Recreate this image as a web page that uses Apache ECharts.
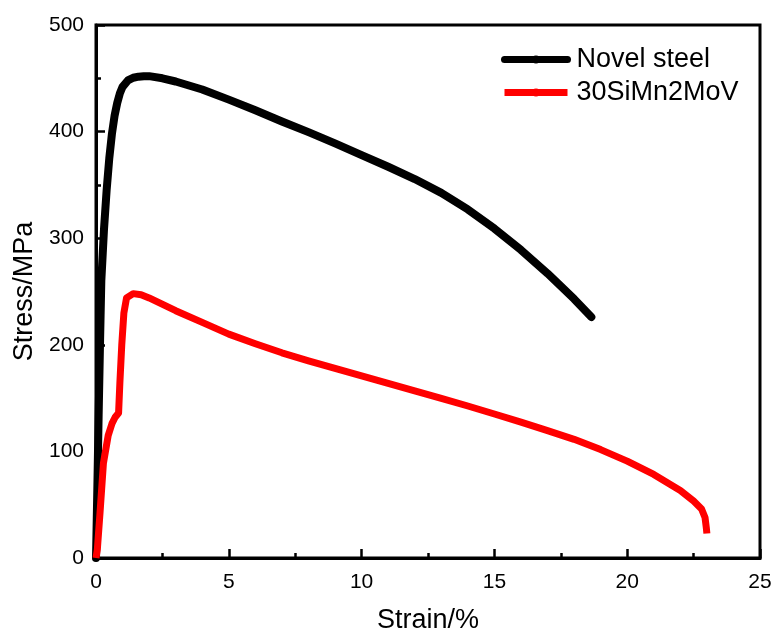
<!DOCTYPE html>
<html>
<head>
<meta charset="utf-8">
<script src="https://cdn.jsdelivr.net/npm/echarts@6/dist/echarts.min.js"></script>
<style>
  html, body { margin: 0; padding: 0; background: #fff; }
  #chart { width: 775px; height: 632px; }
</style>
</head>
<body>
<div id="chart"></div>
<script>
// strain (%) / stress (MPa) pairs
const novelStrain = [0, 0.05, 0.1, 0.15, 0.2, 0.3, 0.4, 0.5, 0.6, 0.7, 0.8, 0.9, 1.0, 1.2, 1.4, 1.6, 1.8, 2.0, 2.5, 3.0, 4.0, 5.0, 6.0, 7.0, 8.0, 9.0, 10.0, 11.0, 12.0, 13.0, 14.0, 15.0, 16.0, 17.0, 18.0, 18.65]
const novelStress = [0, 65, 135, 200, 260, 308, 345, 375, 398, 415, 427, 436, 442, 448, 450.5, 451.5, 452, 452, 450, 447, 439.5, 430, 420, 409.5, 399.5, 389, 378, 367, 355.5, 342.5, 327, 309, 289, 267, 243, 226]

const refStrain = [0, 0.05, 0.15, 0.28, 0.46, 0.6, 0.72, 0.85, 0.9, 0.97, 1.05, 1.15, 1.4, 1.7, 2.0, 3.0, 4.0, 5.0, 6.0, 7.0, 8.0, 9.0, 10.0, 11.0, 12.0, 13.0, 14.0, 15.0, 16.0, 17.0, 18.0, 19.0, 20.0, 21.0, 22.0, 22.5, 22.8, 22.93, 22.98, 23.0]
const refStress = [0, 8, 42, 89, 115, 126, 132, 136, 165, 200, 230, 244, 248, 247, 244, 232, 221, 210, 201, 192.5, 185, 177.8, 170.8, 163.8, 156.8, 149.8, 142.6, 135.1, 127.5, 119.5, 111.3, 101.7, 90.9, 78.4, 63.4, 53.4, 46, 38, 28, 23]

const seriesNames = ['Novel steel', '30SiMn2MoV']
const seriesColors = ['#000000', '#ff0000']

const zip = (xs, ys) => xs.map((x, i) => [x, ys[i]])

const chart = echarts.init(document.getElementById('chart'))
const font = 'Liberation Sans, Arial, sans-serif'

const axisLine = { show: true, lineStyle: { color: '#000', width: 3 } }
const axisTick = { show: true, inside: true, length: 9, lineStyle: { color: '#000', width: 2.5 } }
const minorTick = { show: true, splitNumber: 2, length: 5, lineStyle: { color: '#000', width: 2.5 } }

chart.setOption({
  animation: false,
  grid: {
    left: 96, right: 15, top: 25, bottom: 74,
    outerBoundsMode: 'none',
    show: true, borderColor: '#000', borderWidth: 3,
  },
  legend: {
    orient: 'vertical',
    left: 501, top: 46,
    padding: 0,
    itemWidth: 63, itemHeight: 10, itemGap: 6,
    lineStyle: { width: 7 },
    textStyle: { fontFamily: font, fontSize: 27, color: '#000', padding: [0, 0, 0, 4] },
    data: seriesNames,
  },
  xAxis: {
    type: 'value',
    min: 0, max: 25, interval: 5,
    name: 'Strain/%',
    nameLocation: 'middle',
    nameGap: 49,
    nameTextStyle: { fontFamily: font, fontSize: 27, color: '#000' },
    axisLine, axisTick, minorTick,
    axisLabel: { fontFamily: font, fontSize: 21, color: '#000', margin: 14 },
    splitLine: { show: false },
  },
  yAxis: {
    type: 'value',
    min: 0, max: 500, interval: 100,
    name: 'Stress/MPa',
    nameLocation: 'middle',
    nameGap: 55,
    nameTextStyle: { fontFamily: font, fontSize: 27, color: '#000' },
    axisLine, axisTick, minorTick,
    axisLabel: { fontFamily: font, fontSize: 21, color: '#000', margin: 12 },
    splitLine: { show: false },
  },
  series: [
    {
      name: seriesNames[0],
      type: 'line',
      data: zip(novelStrain, novelStress),
      showSymbol: false,
      symbol: 'circle',
      lineStyle: { color: seriesColors[0], width: 8, cap: 'round', join: 'round' },
      itemStyle: { color: seriesColors[0] },
    },
    {
      name: seriesNames[1],
      type: 'line',
      data: zip(refStrain, refStress),
      showSymbol: false,
      symbol: 'circle',
      lineStyle: { color: seriesColors[1], width: 7, cap: 'butt', join: 'round' },
      itemStyle: { color: seriesColors[1] },
    },
  ],
})
</script>
</body>
</html>
